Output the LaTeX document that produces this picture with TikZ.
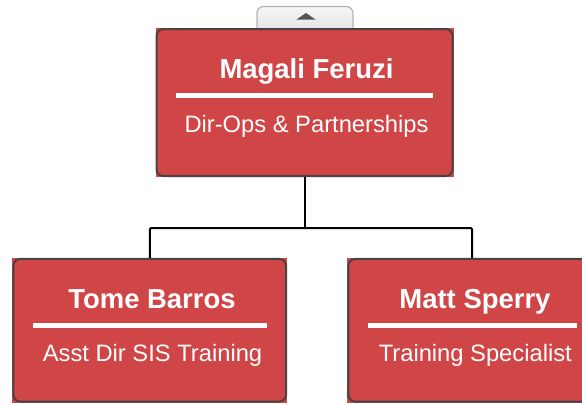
\documentclass[tikz,border=0pt]{standalone}
\usepackage{fontspec}
\setmainfont{Liberation Sans}
\definecolor{boxred}{HTML}{D04546}
\definecolor{boxedge}{HTML}{4A4242}
\definecolor{tabedge}{HTML}{B4B4B4}
\definecolor{tabtop}{HTML}{F6F6F6}
\definecolor{tabbot}{HTML}{DCDCDC}
\definecolor{arrowgray}{HTML}{555555}
\tikzset{
  x=0.75pt, y=-0.75pt,
  boxfill/.style={fill=boxred, inner sep=0pt, outer sep=0pt},
  topsize/.style={minimum width=223.5pt, minimum height=111.75pt},
  botsize/.style={minimum width=205.9pt, minimum height=108.4pt},
  rightsize/.style={minimum width=187pt, minimum height=108.4pt},
  boxline/.style={draw=boxedge, line width=1.5pt, rounded corners=5pt},
  nametext/.style={text=white, font=\fontsize{20.6}{24}\selectfont\bfseries, anchor=base, inner sep=0pt},
  roletext/.style={text=white, font=\fontsize{17.8}{21}\selectfont, anchor=base, inner sep=0pt},
  rule/.style={fill=white},
  conn/.style={draw=black, line width=1.5pt, rounded corners=1pt},
}
\begin{document}
\begin{tikzpicture}
\useasboundingbox (0,0) rectangle (582,404);
\clip (0,0) rectangle (582,404);
% tab
\draw[draw=tabedge, line width=0.9pt, top color=tabtop, bottom color=tabbot, rounded corners=5pt] (257,6.5) rectangle (353,40);
\fill[arrowgray] (296.5,19.5) -- (306,13) -- (315.5,19.5) -- cycle;
% top box
\node[boxfill, topsize] (top) at (304.5,102.5) {};
\draw[boxline] ([shift={(0.75pt,0.75pt)}]top.south west) rectangle ([shift={(-0.75pt,-0.75pt)}]top.north east);
\node[nametext] (topname) at (306.5,78) {Magali Feruzi};
\fill[rule] (176,93) rectangle (433,98);
\node[roletext] (toprole) at (306.5,132) {Dir-Ops \& Partnerships};
% left box
\node[boxfill, botsize] (left) at (149.75,330.25) {};
\draw[boxline] ([shift={(0.75pt,0.75pt)}]left.south west) rectangle ([shift={(-0.75pt,-0.75pt)}]left.north east);
\node[nametext] (leftname) at (152,308.3) {Tome Barros};
\fill[rule] (33.3,322.8) rectangle (266.7,327.8);
\node[roletext] (leftrole) at (152.5,361.7) {Asst Dir SIS Training};
% right box
\node[boxfill, rightsize] (right) at (472,330.25) {};
\draw[boxline] ([shift={(0.75pt,0.75pt)}]right.south west) rectangle ([shift={(-0.75pt,-0.75pt)}]right.north east);
\node[nametext] (rightname) at (475,308.3) {Matt Sperry};
\fill[rule] (368,322.8) rectangle (577,327.8);
\node[roletext] (rightrole) at (475.3,361.7) {Training Specialist};
% connectors
\coordinate (j) at (304.5,228);
\draw[conn] (top.south) -- (j);
\draw[conn] (left.north) |- (j) -| (right.north);
\end{tikzpicture}
\end{document}
